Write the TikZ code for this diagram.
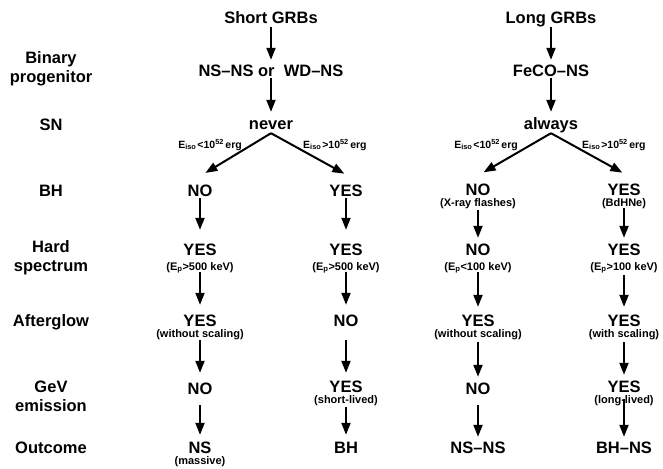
\documentclass[tikz,border=0pt]{standalone}
\usepackage{fontspec}
\setmainfont{Liberation Sans}
\usetikzlibrary{arrows.meta,calc}
\tikzset{
  mainlbl/.style={font=\fontsize{16.5}{19}\selectfont\bfseries, inner sep=0pt,
    text height=12pt, text depth=0pt, anchor=base},
  sublbl/.style={font=\fontsize{11}{13}\selectfont\bfseries, inner sep=0pt,
    text height=8pt, text depth=2pt, anchor=base},
  elbl/.style={font=\fontsize{10.5}{12}\selectfont\bfseries, inner sep=0pt},
  rowlbl/.style={font=\fontsize{16.5}{19}\selectfont\bfseries, align=center,
    inner sep=0pt, anchor=base},
  flow/.style={line width=2pt, -{Triangle[length=12pt,width=9pt]}},
}
\newcommand{\Eiso}{E\textsubscript{iso}\kern1pt}
\newcommand{\Ep}{E\textsubscript{p}}
\begin{document}
\begin{tikzpicture}[x=1pt,y=-1pt]
\fill[white] (0,0) rectangle (663,468);
\useasboundingbox (0,0) rectangle (663,468);

% row headings (base = baseline of the last line)
\node[rowlbl] (lbin) at (51,83)  {Binary\\progenitor};
\node[rowlbl] (lsn)  at (51,130) {SN};
\node[rowlbl] (lbh)  at (51,196) {BH};
\node[rowlbl] (lhs)  at (51,271) {Hard\\spectrum};
\node[rowlbl] (lag)  at (51,326) {Afterglow};
\node[rowlbl] (lgev) at (51,411) {GeV\\emission};
\node[rowlbl] (lout) at (51,453) {Outcome};

% short GRBs: head
\node[mainlbl] (sg) at (271,24)  {Short GRBs};
\node[mainlbl] (ns) at (271,77)  {NS–NS or\ \ WD–NS};
\node[mainlbl] (nv) at (271,129) {never};
\draw[flow, shorten <=3pt, shorten >=5pt] (sg) -- (ns);
\draw[flow, shorten <=1pt, shorten >=5pt] (ns) -- (nv);

% long GRBs: head
\node[mainlbl] (lg) at (551,24)  {Long GRBs};
\node[mainlbl] (fe) at (551,77)  {FeCO–NS};
\node[mainlbl] (al) at (551,129) {always};
\draw[flow, shorten <=3pt, shorten >=5pt] (lg) -- (fe);
\draw[flow, shorten <=1pt, shorten >=5pt] (fe) -- (al);

% column 1
\node[mainlbl] (b1)  at (200,196) {NO};
\node[mainlbl] (h1)  at (200,255) {YES};
\node[sublbl]  (h1x) at (200,270) {(\Ep>500 keV)};
\node[mainlbl] (a1)  at (200,326) {YES};
\node[sublbl]  (a1x) at (200,337) {(without scaling)};
\node[mainlbl] (g1)  at (200,394) {NO};
\node[mainlbl] (o1)  at (200,453) {NS};
\node[sublbl]  (o1x) at (200,464) {(massive)};

% column 2
\node[mainlbl] (b2)  at (346,196) {YES};
\node[mainlbl] (h2)  at (346,255) {YES};
\node[sublbl]  (h2x) at (346,270) {(\Ep>500 keV)};
\node[mainlbl] (a2)  at (346,326) {NO};
\node[mainlbl] (g2)  at (346,392) {YES};
\node[sublbl]  (g2x) at (346,403) {(short-lived)};
\node[mainlbl] (o2)  at (346,453) {BH};

% column 3
\node[mainlbl] (b3)  at (478,195) {NO};
\node[sublbl]  (b3x) at (478,206) {(X-ray flashes)};
\node[mainlbl] (h3)  at (478,255) {NO};
\node[sublbl]  (h3x) at (478,270) {(\Ep<100 keV)};
\node[mainlbl] (a3)  at (478,326) {YES};
\node[sublbl]  (a3x) at (478,337) {(without scaling)};
\node[mainlbl] (g3)  at (478,394) {NO};
\node[mainlbl] (o3)  at (478,453) {NS–NS};

% column 4
\node[mainlbl] (b4)  at (624,195) {YES};
\node[sublbl]  (b4x) at (624,206) {(BdHNe)};
\node[mainlbl] (h4)  at (624,255) {YES};
\node[sublbl]  (h4x) at (624,270) {(\Ep>100 keV)};
\node[mainlbl] (a4)  at (624,326) {YES};
\node[sublbl]  (a4x) at (624,337) {(with scaling)};
\node[mainlbl] (g4)  at (624,392) {YES};
\node[sublbl]  (g4x) at (624,403) {(long-lived)};
\node[mainlbl] (o4)  at (624,453) {BH–NS};

% energy branches
\coordinate (sapex) at ($(nv.south)+(0,4)$);
\coordinate (lapex) at ($(al.south)+(0,4)$);
\draw[flow, shorten >=21pt] (sapex) -- (b1.north west);
\draw[flow, shorten >=21pt] (sapex) -- (b2.north east);
\draw[flow, shorten >=21pt] (lapex) -- (b3.north west);
\draw[flow, shorten >=21pt] (lapex) -- (b4.north east);
\node[elbl, anchor=base east] (e1) at (242,148) {\Eiso<10\textsuperscript{52}\kern1.5pt erg};
\node[elbl, anchor=base west] (e2) at (303,148) {\Eiso>10\textsuperscript{52}\kern1.5pt erg};
\node[elbl, anchor=base east] (e3) at (518,148) {\Eiso<10\textsuperscript{52}\kern1.5pt erg};
\node[elbl, anchor=base west] (e4) at (582,148) {\Eiso>10\textsuperscript{52}\kern1.5pt erg};

% vertical chains
\draw[flow, shorten <=2pt, shorten >=13pt] (b1) -- (h1);
\draw[flow, shorten <=0pt, shorten >=9pt]  (h1x) -- (a1);
\draw[flow, shorten <=1pt, shorten >=9pt]  (a1x) -- (g1);
\draw[flow, shorten <=11pt, shorten >=6pt] (g1) -- (o1);

\draw[flow, shorten <=2pt, shorten >=13pt] (b2) -- (h2);
\draw[flow, shorten <=0pt, shorten >=9pt]  (h2x) -- (a2);
\draw[flow, shorten <=14pt, shorten >=7pt] (a2) -- (g2);
\draw[flow, shorten <=2pt, shorten >=6pt]  (g2x) -- (o2);

\draw[flow, shorten <=2pt, shorten >=5pt]  (b3x) -- (h3);
\draw[flow, shorten <=0pt, shorten >=7pt]  (h3x) -- (a3);
\draw[flow, shorten <=3pt, shorten >=5pt]  (a3x) -- (g3);
\draw[flow, shorten <=11pt, shorten >=4pt] (g3) -- (o3);

\draw[flow, shorten <=0pt, shorten >=5pt]  (b4x) -- (h4);
\draw[flow, shorten <=3pt, shorten >=7pt]  (h4x) -- (a4);
\draw[flow, shorten <=3pt, shorten >=5pt]  (a4x) -- (g4);
\draw[flow, shorten <=-6pt, shorten >=4pt] (g4x) -- (o4);
\end{tikzpicture}
\end{document}
